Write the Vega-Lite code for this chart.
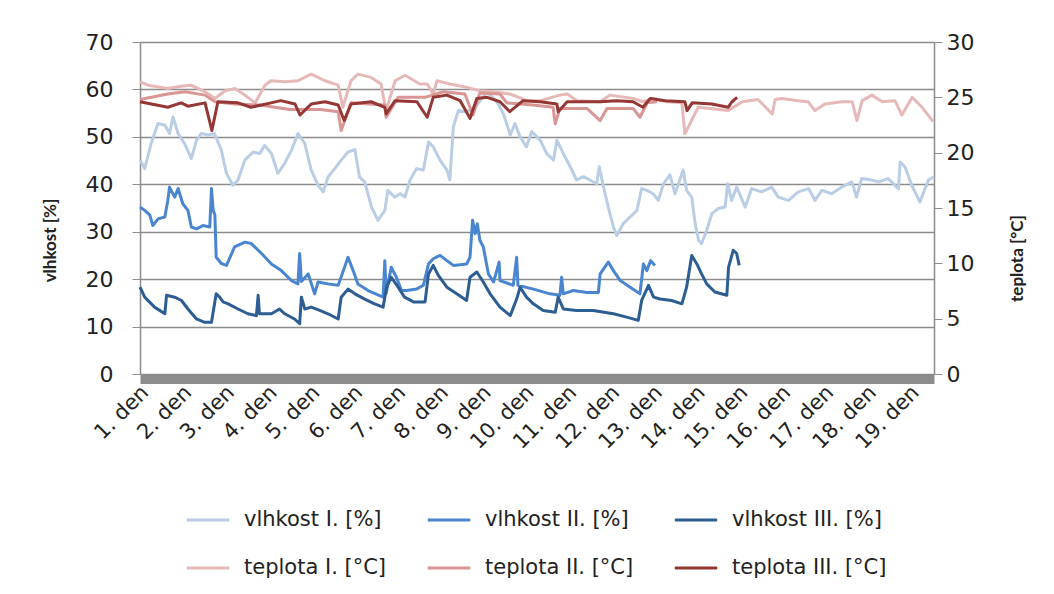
{
  "$schema": "https://vega.github.io/schema/vega-lite/v6.json",
  "width": 794,
  "height": 332,
  "autosize": {"type": "none"},
  "padding": {"left": 140, "top": 42, "right": 120, "bottom": 220},
  "background": "white",
  "config": {
    "font": "DejaVu Sans",
    "view": {"stroke": null},
    "axis": {"labelFont": "DejaVu Sans", "titleFont": "Lato", "labelColor": "#222", "titleColor": "#222"},
    "legend": {"labelFont": "DejaVu Sans", "labelColor": "#222"}
  },
  "datasets": {
    "mereni": [
      {"serie": "vlhkost I. [%]", "den": 0.0, "hodnota": 45.1},
      {"serie": "vlhkost I. [%]", "den": 0.11, "hodnota": 43.3},
      {"serie": "vlhkost I. [%]", "den": 0.26, "hodnota": 48.6},
      {"serie": "vlhkost I. [%]", "den": 0.42, "hodnota": 52.8},
      {"serie": "vlhkost I. [%]", "den": 0.58, "hodnota": 52.5},
      {"serie": "vlhkost I. [%]", "den": 0.69, "hodnota": 50.7},
      {"serie": "vlhkost I. [%]", "den": 0.77, "hodnota": 54.2},
      {"serie": "vlhkost I. [%]", "den": 0.89, "hodnota": 50.7},
      {"serie": "vlhkost I. [%]", "den": 1.04, "hodnota": 48.6},
      {"serie": "vlhkost I. [%]", "den": 1.2, "hodnota": 45.4},
      {"serie": "vlhkost I. [%]", "den": 1.32, "hodnota": 49.3},
      {"serie": "vlhkost I. [%]", "den": 1.43, "hodnota": 50.7},
      {"serie": "vlhkost I. [%]", "den": 1.59, "hodnota": 50.4},
      {"serie": "vlhkost I. [%]", "den": 1.74, "hodnota": 50.7},
      {"serie": "vlhkost I. [%]", "den": 1.9, "hodnota": 47.2},
      {"serie": "vlhkost I. [%]", "den": 2.02, "hodnota": 42.3},
      {"serie": "vlhkost I. [%]", "den": 2.17, "hodnota": 39.8},
      {"serie": "vlhkost I. [%]", "den": 2.29, "hodnota": 40.9},
      {"serie": "vlhkost I. [%]", "den": 2.45, "hodnota": 45.1},
      {"serie": "vlhkost I. [%]", "den": 2.64, "hodnota": 46.8},
      {"serie": "vlhkost I. [%]", "den": 2.8, "hodnota": 46.5},
      {"serie": "vlhkost I. [%]", "den": 2.91, "hodnota": 48.2},
      {"serie": "vlhkost I. [%]", "den": 3.07, "hodnota": 46.5},
      {"serie": "vlhkost I. [%]", "den": 3.22, "hodnota": 42.3},
      {"serie": "vlhkost I. [%]", "den": 3.38, "hodnota": 44.4},
      {"serie": "vlhkost I. [%]", "den": 3.54, "hodnota": 47.2},
      {"serie": "vlhkost I. [%]", "den": 3.69, "hodnota": 50.7},
      {"serie": "vlhkost I. [%]", "den": 3.85, "hodnota": 48.6},
      {"serie": "vlhkost I. [%]", "den": 4.0, "hodnota": 43.0},
      {"serie": "vlhkost I. [%]", "den": 4.16, "hodnota": 39.8},
      {"serie": "vlhkost I. [%]", "den": 4.28, "hodnota": 38.4},
      {"serie": "vlhkost I. [%]", "den": 4.39, "hodnota": 41.5},
      {"serie": "vlhkost I. [%]", "den": 4.55, "hodnota": 43.3},
      {"serie": "vlhkost I. [%]", "den": 4.7, "hodnota": 45.1},
      {"serie": "vlhkost I. [%]", "den": 4.86, "hodnota": 46.8},
      {"serie": "vlhkost I. [%]", "den": 5.02, "hodnota": 47.3},
      {"serie": "vlhkost I. [%]", "den": 5.13, "hodnota": 41.5},
      {"serie": "vlhkost I. [%]", "den": 5.25, "hodnota": 40.5},
      {"serie": "vlhkost I. [%]", "den": 5.41, "hodnota": 35.2},
      {"serie": "vlhkost I. [%]", "den": 5.56, "hodnota": 32.4},
      {"serie": "vlhkost I. [%]", "den": 5.72, "hodnota": 34.5},
      {"serie": "vlhkost I. [%]", "den": 5.79, "hodnota": 38.7},
      {"serie": "vlhkost I. [%]", "den": 5.95, "hodnota": 37.3},
      {"serie": "vlhkost I. [%]", "den": 6.08, "hodnota": 38.0},
      {"serie": "vlhkost I. [%]", "den": 6.19, "hodnota": 37.3},
      {"serie": "vlhkost I. [%]", "den": 6.31, "hodnota": 40.9},
      {"serie": "vlhkost I. [%]", "den": 6.46, "hodnota": 43.3},
      {"serie": "vlhkost I. [%]", "den": 6.62, "hodnota": 43.0},
      {"serie": "vlhkost I. [%]", "den": 6.74, "hodnota": 48.9},
      {"serie": "vlhkost I. [%]", "den": 6.85, "hodnota": 47.9},
      {"serie": "vlhkost I. [%]", "den": 7.01, "hodnota": 45.1},
      {"serie": "vlhkost I. [%]", "den": 7.17, "hodnota": 43.0},
      {"serie": "vlhkost I. [%]", "den": 7.24, "hodnota": 40.9},
      {"serie": "vlhkost I. [%]", "den": 7.32, "hodnota": 52.1},
      {"serie": "vlhkost I. [%]", "den": 7.44, "hodnota": 55.6},
      {"serie": "vlhkost I. [%]", "den": 7.55, "hodnota": 55.3},
      {"serie": "vlhkost I. [%]", "den": 7.71, "hodnota": 55.6},
      {"serie": "vlhkost I. [%]", "den": 7.87, "hodnota": 56.7},
      {"serie": "vlhkost I. [%]", "den": 8.1, "hodnota": 59.5},
      {"serie": "vlhkost I. [%]", "den": 8.33, "hodnota": 57.5},
      {"serie": "vlhkost I. [%]", "den": 8.49, "hodnota": 54.9},
      {"serie": "vlhkost I. [%]", "den": 8.65, "hodnota": 50.4},
      {"serie": "vlhkost I. [%]", "den": 8.76, "hodnota": 52.8},
      {"serie": "vlhkost I. [%]", "den": 8.88, "hodnota": 50.0},
      {"serie": "vlhkost I. [%]", "den": 9.03, "hodnota": 47.9},
      {"serie": "vlhkost I. [%]", "den": 9.15, "hodnota": 51.1},
      {"serie": "vlhkost I. [%]", "den": 9.35, "hodnota": 49.3},
      {"serie": "vlhkost I. [%]", "den": 9.5, "hodnota": 46.5},
      {"serie": "vlhkost I. [%]", "den": 9.66, "hodnota": 45.1},
      {"serie": "vlhkost I. [%]", "den": 9.74, "hodnota": 49.3},
      {"serie": "vlhkost I. [%]", "den": 9.89, "hodnota": 46.5},
      {"serie": "vlhkost I. [%]", "den": 10.05, "hodnota": 43.7},
      {"serie": "vlhkost I. [%]", "den": 10.2, "hodnota": 40.9},
      {"serie": "vlhkost I. [%]", "den": 10.36, "hodnota": 41.6},
      {"serie": "vlhkost I. [%]", "den": 10.51, "hodnota": 40.9},
      {"serie": "vlhkost I. [%]", "den": 10.67, "hodnota": 40.1},
      {"serie": "vlhkost I. [%]", "den": 10.73, "hodnota": 43.7},
      {"serie": "vlhkost I. [%]", "den": 10.83, "hodnota": 39.4},
      {"serie": "vlhkost I. [%]", "den": 10.94, "hodnota": 35.2},
      {"serie": "vlhkost I. [%]", "den": 11.06, "hodnota": 31.0},
      {"serie": "vlhkost I. [%]", "den": 11.14, "hodnota": 29.2},
      {"serie": "vlhkost I. [%]", "den": 11.29, "hodnota": 31.7},
      {"serie": "vlhkost I. [%]", "den": 11.45, "hodnota": 33.1},
      {"serie": "vlhkost I. [%]", "den": 11.61, "hodnota": 34.5},
      {"serie": "vlhkost I. [%]", "den": 11.72, "hodnota": 39.1},
      {"serie": "vlhkost I. [%]", "den": 11.84, "hodnota": 38.7},
      {"serie": "vlhkost I. [%]", "den": 11.99, "hodnota": 38.0},
      {"serie": "vlhkost I. [%]", "den": 12.11, "hodnota": 36.6},
      {"serie": "vlhkost I. [%]", "den": 12.23, "hodnota": 40.1},
      {"serie": "vlhkost I. [%]", "den": 12.38, "hodnota": 42.0},
      {"serie": "vlhkost I. [%]", "den": 12.5, "hodnota": 38.0},
      {"serie": "vlhkost I. [%]", "den": 12.69, "hodnota": 43.0},
      {"serie": "vlhkost I. [%]", "den": 12.77, "hodnota": 38.7},
      {"serie": "vlhkost I. [%]", "den": 12.89, "hodnota": 37.3},
      {"serie": "vlhkost I. [%]", "den": 12.97, "hodnota": 31.7},
      {"serie": "vlhkost I. [%]", "den": 13.05, "hodnota": 28.2},
      {"serie": "vlhkost I. [%]", "den": 13.12, "hodnota": 27.5},
      {"serie": "vlhkost I. [%]", "den": 13.24, "hodnota": 30.3},
      {"serie": "vlhkost I. [%]", "den": 13.36, "hodnota": 33.8},
      {"serie": "vlhkost I. [%]", "den": 13.51, "hodnota": 34.9},
      {"serie": "vlhkost I. [%]", "den": 13.67, "hodnota": 35.2},
      {"serie": "vlhkost I. [%]", "den": 13.73, "hodnota": 40.1},
      {"serie": "vlhkost I. [%]", "den": 13.82, "hodnota": 36.6},
      {"serie": "vlhkost I. [%]", "den": 13.94, "hodnota": 39.4},
      {"serie": "vlhkost I. [%]", "den": 14.14, "hodnota": 35.2},
      {"serie": "vlhkost I. [%]", "den": 14.29, "hodnota": 39.1},
      {"serie": "vlhkost I. [%]", "den": 14.52, "hodnota": 38.4},
      {"serie": "vlhkost I. [%]", "den": 14.76, "hodnota": 39.4},
      {"serie": "vlhkost I. [%]", "den": 14.91, "hodnota": 37.3},
      {"serie": "vlhkost I. [%]", "den": 15.15, "hodnota": 36.6},
      {"serie": "vlhkost I. [%]", "den": 15.38, "hodnota": 38.4},
      {"serie": "vlhkost I. [%]", "den": 15.62, "hodnota": 39.1},
      {"serie": "vlhkost I. [%]", "den": 15.77, "hodnota": 36.6},
      {"serie": "vlhkost I. [%]", "den": 15.93, "hodnota": 38.7},
      {"serie": "vlhkost I. [%]", "den": 16.16, "hodnota": 38.0},
      {"serie": "vlhkost I. [%]", "den": 16.39, "hodnota": 39.4},
      {"serie": "vlhkost I. [%]", "den": 16.63, "hodnota": 40.5},
      {"serie": "vlhkost I. [%]", "den": 16.74, "hodnota": 37.3},
      {"serie": "vlhkost I. [%]", "den": 16.86, "hodnota": 41.2},
      {"serie": "vlhkost I. [%]", "den": 17.09, "hodnota": 40.9},
      {"serie": "vlhkost I. [%]", "den": 17.25, "hodnota": 40.5},
      {"serie": "vlhkost I. [%]", "den": 17.48, "hodnota": 41.2},
      {"serie": "vlhkost I. [%]", "den": 17.72, "hodnota": 39.1},
      {"serie": "vlhkost I. [%]", "den": 17.76, "hodnota": 44.7},
      {"serie": "vlhkost I. [%]", "den": 17.87, "hodnota": 43.7},
      {"serie": "vlhkost I. [%]", "den": 18.03, "hodnota": 39.8},
      {"serie": "vlhkost I. [%]", "den": 18.22, "hodnota": 36.3},
      {"serie": "vlhkost I. [%]", "den": 18.42, "hodnota": 40.9},
      {"serie": "vlhkost I. [%]", "den": 18.55, "hodnota": 41.6},

      {"serie": "vlhkost II. [%]", "den": 0.0, "hodnota": 35.2},
      {"serie": "vlhkost II. [%]", "den": 0.11, "hodnota": 34.5},
      {"serie": "vlhkost II. [%]", "den": 0.23, "hodnota": 33.5},
      {"serie": "vlhkost II. [%]", "den": 0.3, "hodnota": 31.3},
      {"serie": "vlhkost II. [%]", "den": 0.42, "hodnota": 32.7},
      {"serie": "vlhkost II. [%]", "den": 0.58, "hodnota": 33.1},
      {"serie": "vlhkost II. [%]", "den": 0.65, "hodnota": 36.6},
      {"serie": "vlhkost II. [%]", "den": 0.69, "hodnota": 39.4},
      {"serie": "vlhkost II. [%]", "den": 0.81, "hodnota": 37.3},
      {"serie": "vlhkost II. [%]", "den": 0.89, "hodnota": 39.1},
      {"serie": "vlhkost II. [%]", "den": 1.0, "hodnota": 35.9},
      {"serie": "vlhkost II. [%]", "den": 1.12, "hodnota": 34.5},
      {"serie": "vlhkost II. [%]", "den": 1.2, "hodnota": 31.0},
      {"serie": "vlhkost II. [%]", "den": 1.32, "hodnota": 30.6},
      {"serie": "vlhkost II. [%]", "den": 1.47, "hodnota": 31.3},
      {"serie": "vlhkost II. [%]", "den": 1.63, "hodnota": 31.0},
      {"serie": "vlhkost II. [%]", "den": 1.67, "hodnota": 39.1},
      {"serie": "vlhkost II. [%]", "den": 1.71, "hodnota": 34.5},
      {"serie": "vlhkost II. [%]", "den": 1.75, "hodnota": 33.5},
      {"serie": "vlhkost II. [%]", "den": 1.78, "hodnota": 24.6},
      {"serie": "vlhkost II. [%]", "den": 1.9, "hodnota": 23.3},
      {"serie": "vlhkost II. [%]", "den": 2.02, "hodnota": 22.9},
      {"serie": "vlhkost II. [%]", "den": 2.21, "hodnota": 26.8},
      {"serie": "vlhkost II. [%]", "den": 2.45, "hodnota": 27.8},
      {"serie": "vlhkost II. [%]", "den": 2.6, "hodnota": 27.5},
      {"serie": "vlhkost II. [%]", "den": 2.84, "hodnota": 25.4},
      {"serie": "vlhkost II. [%]", "den": 3.07, "hodnota": 23.2},
      {"serie": "vlhkost II. [%]", "den": 3.3, "hodnota": 21.8},
      {"serie": "vlhkost II. [%]", "den": 3.54, "hodnota": 19.7},
      {"serie": "vlhkost II. [%]", "den": 3.69, "hodnota": 19.0},
      {"serie": "vlhkost II. [%]", "den": 3.73, "hodnota": 25.4},
      {"serie": "vlhkost II. [%]", "den": 3.77, "hodnota": 19.5},
      {"serie": "vlhkost II. [%]", "den": 3.93, "hodnota": 21.1},
      {"serie": "vlhkost II. [%]", "den": 4.08, "hodnota": 16.9},
      {"serie": "vlhkost II. [%]", "den": 4.16, "hodnota": 19.4},
      {"serie": "vlhkost II. [%]", "den": 4.39, "hodnota": 19.0},
      {"serie": "vlhkost II. [%]", "den": 4.63, "hodnota": 18.7},
      {"serie": "vlhkost II. [%]", "den": 4.74, "hodnota": 21.5},
      {"serie": "vlhkost II. [%]", "den": 4.86, "hodnota": 24.6},
      {"serie": "vlhkost II. [%]", "den": 4.98, "hodnota": 21.8},
      {"serie": "vlhkost II. [%]", "den": 5.09, "hodnota": 19.0},
      {"serie": "vlhkost II. [%]", "den": 5.33, "hodnota": 17.6},
      {"serie": "vlhkost II. [%]", "den": 5.68, "hodnota": 16.2},
      {"serie": "vlhkost II. [%]", "den": 5.72, "hodnota": 23.9},
      {"serie": "vlhkost II. [%]", "den": 5.75, "hodnota": 17.0},
      {"serie": "vlhkost II. [%]", "den": 5.87, "hodnota": 22.5},
      {"serie": "vlhkost II. [%]", "den": 5.99, "hodnota": 20.4},
      {"serie": "vlhkost II. [%]", "den": 6.11, "hodnota": 17.6},
      {"serie": "vlhkost II. [%]", "den": 6.23, "hodnota": 17.6},
      {"serie": "vlhkost II. [%]", "den": 6.46, "hodnota": 17.9},
      {"serie": "vlhkost II. [%]", "den": 6.62, "hodnota": 18.7},
      {"serie": "vlhkost II. [%]", "den": 6.74, "hodnota": 23.2},
      {"serie": "vlhkost II. [%]", "den": 6.85, "hodnota": 24.3},
      {"serie": "vlhkost II. [%]", "den": 7.01, "hodnota": 25.0},
      {"serie": "vlhkost II. [%]", "den": 7.17, "hodnota": 23.9},
      {"serie": "vlhkost II. [%]", "den": 7.32, "hodnota": 22.9},
      {"serie": "vlhkost II. [%]", "den": 7.63, "hodnota": 23.2},
      {"serie": "vlhkost II. [%]", "den": 7.71, "hodnota": 24.6},
      {"serie": "vlhkost II. [%]", "den": 7.77, "hodnota": 32.4},
      {"serie": "vlhkost II. [%]", "den": 7.83, "hodnota": 29.6},
      {"serie": "vlhkost II. [%]", "den": 7.88, "hodnota": 31.7},
      {"serie": "vlhkost II. [%]", "den": 7.94, "hodnota": 28.2},
      {"serie": "vlhkost II. [%]", "den": 8.02, "hodnota": 26.8},
      {"serie": "vlhkost II. [%]", "den": 8.14, "hodnota": 21.1},
      {"serie": "vlhkost II. [%]", "den": 8.26, "hodnota": 19.4},
      {"serie": "vlhkost II. [%]", "den": 8.39, "hodnota": 23.6},
      {"serie": "vlhkost II. [%]", "den": 8.41, "hodnota": 19.7},
      {"serie": "vlhkost II. [%]", "den": 8.72, "hodnota": 18.7},
      {"serie": "vlhkost II. [%]", "den": 8.8, "hodnota": 24.6},
      {"serie": "vlhkost II. [%]", "den": 8.83, "hodnota": 18.7},
      {"serie": "vlhkost II. [%]", "den": 9.19, "hodnota": 17.9},
      {"serie": "vlhkost II. [%]", "den": 9.58, "hodnota": 16.9},
      {"serie": "vlhkost II. [%]", "den": 9.81, "hodnota": 16.6},
      {"serie": "vlhkost II. [%]", "den": 9.85, "hodnota": 20.4},
      {"serie": "vlhkost II. [%]", "den": 9.89, "hodnota": 16.9},
      {"serie": "vlhkost II. [%]", "den": 10.12, "hodnota": 17.6},
      {"serie": "vlhkost II. [%]", "den": 10.44, "hodnota": 17.2},
      {"serie": "vlhkost II. [%]", "den": 10.71, "hodnota": 17.2},
      {"serie": "vlhkost II. [%]", "den": 10.75, "hodnota": 21.1},
      {"serie": "vlhkost II. [%]", "den": 10.94, "hodnota": 23.6},
      {"serie": "vlhkost II. [%]", "den": 11.06, "hodnota": 21.8},
      {"serie": "vlhkost II. [%]", "den": 11.22, "hodnota": 19.7},
      {"serie": "vlhkost II. [%]", "den": 11.45, "hodnota": 18.3},
      {"serie": "vlhkost II. [%]", "den": 11.68, "hodnota": 16.9},
      {"serie": "vlhkost II. [%]", "den": 11.76, "hodnota": 23.2},
      {"serie": "vlhkost II. [%]", "den": 11.84, "hodnota": 21.8},
      {"serie": "vlhkost II. [%]", "den": 11.93, "hodnota": 23.9},
      {"serie": "vlhkost II. [%]", "den": 12.03, "hodnota": 22.9},

      {"serie": "vlhkost III. [%]", "den": 0.0, "hodnota": 18.3},
      {"serie": "vlhkost III. [%]", "den": 0.11, "hodnota": 16.2},
      {"serie": "vlhkost III. [%]", "den": 0.34, "hodnota": 14.1},
      {"serie": "vlhkost III. [%]", "den": 0.58, "hodnota": 12.7},
      {"serie": "vlhkost III. [%]", "den": 0.62, "hodnota": 16.6},
      {"serie": "vlhkost III. [%]", "den": 0.81, "hodnota": 16.2},
      {"serie": "vlhkost III. [%]", "den": 0.97, "hodnota": 15.5},
      {"serie": "vlhkost III. [%]", "den": 1.12, "hodnota": 13.7},
      {"serie": "vlhkost III. [%]", "den": 1.32, "hodnota": 11.6},
      {"serie": "vlhkost III. [%]", "den": 1.51, "hodnota": 10.9},
      {"serie": "vlhkost III. [%]", "den": 1.67, "hodnota": 10.9},
      {"serie": "vlhkost III. [%]", "den": 1.78, "hodnota": 16.9},
      {"serie": "vlhkost III. [%]", "den": 1.86, "hodnota": 16.2},
      {"serie": "vlhkost III. [%]", "den": 1.94, "hodnota": 15.2},
      {"serie": "vlhkost III. [%]", "den": 2.06, "hodnota": 14.8},
      {"serie": "vlhkost III. [%]", "den": 2.29, "hodnota": 13.7},
      {"serie": "vlhkost III. [%]", "den": 2.52, "hodnota": 12.7},
      {"serie": "vlhkost III. [%]", "den": 2.72, "hodnota": 12.3},
      {"serie": "vlhkost III. [%]", "den": 2.76, "hodnota": 16.6},
      {"serie": "vlhkost III. [%]", "den": 2.79, "hodnota": 12.7},
      {"serie": "vlhkost III. [%]", "den": 3.07, "hodnota": 12.7},
      {"serie": "vlhkost III. [%]", "den": 3.26, "hodnota": 13.7},
      {"serie": "vlhkost III. [%]", "den": 3.38, "hodnota": 12.7},
      {"serie": "vlhkost III. [%]", "den": 3.61, "hodnota": 11.6},
      {"serie": "vlhkost III. [%]", "den": 3.73, "hodnota": 10.6},
      {"serie": "vlhkost III. [%]", "den": 3.77, "hodnota": 16.2},
      {"serie": "vlhkost III. [%]", "den": 3.85, "hodnota": 13.7},
      {"serie": "vlhkost III. [%]", "den": 4.0, "hodnota": 14.1},
      {"serie": "vlhkost III. [%]", "den": 4.2, "hodnota": 13.4},
      {"serie": "vlhkost III. [%]", "den": 4.39, "hodnota": 12.7},
      {"serie": "vlhkost III. [%]", "den": 4.63, "hodnota": 11.6},
      {"serie": "vlhkost III. [%]", "den": 4.7, "hodnota": 16.2},
      {"serie": "vlhkost III. [%]", "den": 4.86, "hodnota": 17.9},
      {"serie": "vlhkost III. [%]", "den": 5.02, "hodnota": 16.9},
      {"serie": "vlhkost III. [%]", "den": 5.25, "hodnota": 15.8},
      {"serie": "vlhkost III. [%]", "den": 5.48, "hodnota": 14.8},
      {"serie": "vlhkost III. [%]", "den": 5.68, "hodnota": 14.1},
      {"serie": "vlhkost III. [%]", "den": 5.76, "hodnota": 18.3},
      {"serie": "vlhkost III. [%]", "den": 5.87, "hodnota": 20.4},
      {"serie": "vlhkost III. [%]", "den": 6.03, "hodnota": 18.3},
      {"serie": "vlhkost III. [%]", "den": 6.18, "hodnota": 16.2},
      {"serie": "vlhkost III. [%]", "den": 6.39, "hodnota": 15.2},
      {"serie": "vlhkost III. [%]", "den": 6.66, "hodnota": 15.2},
      {"serie": "vlhkost III. [%]", "den": 6.74, "hodnota": 21.1},
      {"serie": "vlhkost III. [%]", "den": 6.85, "hodnota": 22.9},
      {"serie": "vlhkost III. [%]", "den": 6.97, "hodnota": 20.8},
      {"serie": "vlhkost III. [%]", "den": 7.17, "hodnota": 18.3},
      {"serie": "vlhkost III. [%]", "den": 7.4, "hodnota": 16.9},
      {"serie": "vlhkost III. [%]", "den": 7.63, "hodnota": 15.5},
      {"serie": "vlhkost III. [%]", "den": 7.71, "hodnota": 20.4},
      {"serie": "vlhkost III. [%]", "den": 7.87, "hodnota": 21.5},
      {"serie": "vlhkost III. [%]", "den": 8.02, "hodnota": 19.4},
      {"serie": "vlhkost III. [%]", "den": 8.18, "hodnota": 16.9},
      {"serie": "vlhkost III. [%]", "den": 8.41, "hodnota": 14.1},
      {"serie": "vlhkost III. [%]", "den": 8.65, "hodnota": 12.3},
      {"serie": "vlhkost III. [%]", "den": 8.8, "hodnota": 15.8},
      {"serie": "vlhkost III. [%]", "den": 8.88, "hodnota": 18.3},
      {"serie": "vlhkost III. [%]", "den": 9.03, "hodnota": 16.2},
      {"serie": "vlhkost III. [%]", "den": 9.19, "hodnota": 14.8},
      {"serie": "vlhkost III. [%]", "den": 9.42, "hodnota": 13.4},
      {"serie": "vlhkost III. [%]", "den": 9.7, "hodnota": 13.0},
      {"serie": "vlhkost III. [%]", "den": 9.77, "hodnota": 16.2},
      {"serie": "vlhkost III. [%]", "den": 9.89, "hodnota": 13.7},
      {"serie": "vlhkost III. [%]", "den": 10.2, "hodnota": 13.4},
      {"serie": "vlhkost III. [%]", "den": 10.59, "hodnota": 13.4},
      {"serie": "vlhkost III. [%]", "den": 11.06, "hodnota": 12.7},
      {"serie": "vlhkost III. [%]", "den": 11.37, "hodnota": 12.0},
      {"serie": "vlhkost III. [%]", "den": 11.64, "hodnota": 11.3},
      {"serie": "vlhkost III. [%]", "den": 11.72, "hodnota": 15.5},
      {"serie": "vlhkost III. [%]", "den": 11.88, "hodnota": 18.7},
      {"serie": "vlhkost III. [%]", "den": 12.0, "hodnota": 16.2},
      {"serie": "vlhkost III. [%]", "den": 12.15, "hodnota": 15.8},
      {"serie": "vlhkost III. [%]", "den": 12.42, "hodnota": 15.5},
      {"serie": "vlhkost III. [%]", "den": 12.66, "hodnota": 14.8},
      {"serie": "vlhkost III. [%]", "den": 12.77, "hodnota": 18.3},
      {"serie": "vlhkost III. [%]", "den": 12.89, "hodnota": 25.0},
      {"serie": "vlhkost III. [%]", "den": 13.01, "hodnota": 23.2},
      {"serie": "vlhkost III. [%]", "den": 13.12, "hodnota": 21.1},
      {"serie": "vlhkost III. [%]", "den": 13.24, "hodnota": 19.0},
      {"serie": "vlhkost III. [%]", "den": 13.43, "hodnota": 17.3},
      {"serie": "vlhkost III. [%]", "den": 13.71, "hodnota": 16.6},
      {"serie": "vlhkost III. [%]", "den": 13.75, "hodnota": 22.5},
      {"serie": "vlhkost III. [%]", "den": 13.86, "hodnota": 26.1},
      {"serie": "vlhkost III. [%]", "den": 13.94, "hodnota": 25.4},
      {"serie": "vlhkost III. [%]", "den": 14.0, "hodnota": 22.9},

      {"serie": "teplota I. [°C]", "den": 0.0, "hodnota": 26.4},
      {"serie": "teplota I. [°C]", "den": 0.19, "hodnota": 26.1},
      {"serie": "teplota I. [°C]", "den": 0.65, "hodnota": 25.8},
      {"serie": "teplota I. [°C]", "den": 0.96, "hodnota": 26.0},
      {"serie": "teplota I. [°C]", "den": 1.19, "hodnota": 26.1},
      {"serie": "teplota I. [°C]", "den": 1.52, "hodnota": 25.5},
      {"serie": "teplota I. [°C]", "den": 1.75, "hodnota": 24.9},
      {"serie": "teplota I. [°C]", "den": 1.99, "hodnota": 25.6},
      {"serie": "teplota I. [°C]", "den": 2.22, "hodnota": 25.8},
      {"serie": "teplota I. [°C]", "den": 2.45, "hodnota": 25.2},
      {"serie": "teplota I. [°C]", "den": 2.69, "hodnota": 24.5},
      {"serie": "teplota I. [°C]", "den": 2.92, "hodnota": 26.1},
      {"serie": "teplota I. [°C]", "den": 3.06, "hodnota": 26.5},
      {"serie": "teplota I. [°C]", "den": 3.39, "hodnota": 26.4},
      {"serie": "teplota I. [°C]", "den": 3.69, "hodnota": 26.5},
      {"serie": "teplota I. [°C]", "den": 4.0, "hodnota": 27.1},
      {"serie": "teplota I. [°C]", "den": 4.32, "hodnota": 26.5},
      {"serie": "teplota I. [°C]", "den": 4.63, "hodnota": 26.1},
      {"serie": "teplota I. [°C]", "den": 4.74, "hodnota": 24.1},
      {"serie": "teplota I. [°C]", "den": 4.93, "hodnota": 26.5},
      {"serie": "teplota I. [°C]", "den": 5.09, "hodnota": 27.1},
      {"serie": "teplota I. [°C]", "den": 5.4, "hodnota": 26.8},
      {"serie": "teplota I. [°C]", "den": 5.63, "hodnota": 26.2},
      {"serie": "teplota I. [°C]", "den": 5.75, "hodnota": 23.8},
      {"serie": "teplota I. [°C]", "den": 5.96, "hodnota": 26.5},
      {"serie": "teplota I. [°C]", "den": 6.19, "hodnota": 27.0},
      {"serie": "teplota I. [°C]", "den": 6.54, "hodnota": 26.2},
      {"serie": "teplota I. [°C]", "den": 6.71, "hodnota": 26.2},
      {"serie": "teplota I. [°C]", "den": 6.85, "hodnota": 25.3},
      {"serie": "teplota I. [°C]", "den": 6.94, "hodnota": 26.5},
      {"serie": "teplota I. [°C]", "den": 7.24, "hodnota": 26.2},
      {"serie": "teplota I. [°C]", "den": 7.64, "hodnota": 25.9},
      {"serie": "teplota I. [°C]", "den": 7.94, "hodnota": 25.6},
      {"serie": "teplota I. [°C]", "den": 8.25, "hodnota": 25.5},
      {"serie": "teplota I. [°C]", "den": 8.64, "hodnota": 25.3},
      {"serie": "teplota I. [°C]", "den": 9.04, "hodnota": 24.7},
      {"serie": "teplota I. [°C]", "den": 9.35, "hodnota": 24.7},
      {"serie": "teplota I. [°C]", "den": 9.81, "hodnota": 25.2},
      {"serie": "teplota I. [°C]", "den": 9.98, "hodnota": 25.3},
      {"serie": "teplota I. [°C]", "den": 10.21, "hodnota": 24.7},
      {"serie": "teplota I. [°C]", "den": 10.75, "hodnota": 24.6},
      {"serie": "teplota I. [°C]", "den": 10.98, "hodnota": 25.2},
      {"serie": "teplota I. [°C]", "den": 11.52, "hodnota": 24.9},
      {"serie": "teplota I. [°C]", "den": 11.75, "hodnota": 24.6},
      {"serie": "teplota I. [°C]", "den": 11.99, "hodnota": 24.9},
      {"serie": "teplota I. [°C]", "den": 12.31, "hodnota": 24.6},
      {"serie": "teplota I. [°C]", "den": 12.66, "hodnota": 24.5},
      {"serie": "teplota I. [°C]", "den": 12.73, "hodnota": 21.7},
      {"serie": "teplota I. [°C]", "den": 13.04, "hodnota": 24.1},
      {"serie": "teplota I. [°C]", "den": 13.74, "hodnota": 23.8},
      {"serie": "teplota I. [°C]", "den": 14.07, "hodnota": 24.6},
      {"serie": "teplota I. [°C]", "den": 14.44, "hodnota": 24.8},
      {"serie": "teplota I. [°C]", "den": 14.77, "hodnota": 23.5},
      {"serie": "teplota I. [°C]", "den": 14.84, "hodnota": 24.8},
      {"serie": "teplota I. [°C]", "den": 15.0, "hodnota": 24.9},
      {"serie": "teplota I. [°C]", "den": 15.37, "hodnota": 24.7},
      {"serie": "teplota I. [°C]", "den": 15.61, "hodnota": 24.6},
      {"serie": "teplota I. [°C]", "den": 15.77, "hodnota": 23.8},
      {"serie": "teplota I. [°C]", "den": 16.0, "hodnota": 24.4},
      {"serie": "teplota I. [°C]", "den": 16.4, "hodnota": 24.6},
      {"serie": "teplota I. [°C]", "den": 16.64, "hodnota": 24.6},
      {"serie": "teplota I. [°C]", "den": 16.75, "hodnota": 22.9},
      {"serie": "teplota I. [°C]", "den": 16.87, "hodnota": 24.7},
      {"serie": "teplota I. [°C]", "den": 17.1, "hodnota": 25.2},
      {"serie": "teplota I. [°C]", "den": 17.34, "hodnota": 24.6},
      {"serie": "teplota I. [°C]", "den": 17.64, "hodnota": 24.7},
      {"serie": "teplota I. [°C]", "den": 17.8, "hodnota": 23.4},
      {"serie": "teplota I. [°C]", "den": 18.04, "hodnota": 25.0},
      {"serie": "teplota I. [°C]", "den": 18.27, "hodnota": 24.1},
      {"serie": "teplota I. [°C]", "den": 18.53, "hodnota": 22.8},

      {"serie": "teplota II. [°C]", "den": 0.0, "hodnota": 24.8},
      {"serie": "teplota II. [°C]", "den": 0.65, "hodnota": 25.3},
      {"serie": "teplota II. [°C]", "den": 1.05, "hodnota": 25.5},
      {"serie": "teplota II. [°C]", "den": 1.52, "hodnota": 25.2},
      {"serie": "teplota II. [°C]", "den": 1.75, "hodnota": 24.6},
      {"serie": "teplota II. [°C]", "den": 2.22, "hodnota": 24.4},
      {"serie": "teplota II. [°C]", "den": 2.8, "hodnota": 24.3},
      {"serie": "teplota II. [°C]", "den": 3.5, "hodnota": 23.9},
      {"serie": "teplota II. [°C]", "den": 4.21, "hodnota": 23.9},
      {"serie": "teplota II. [°C]", "den": 4.63, "hodnota": 23.7},
      {"serie": "teplota II. [°C]", "den": 4.7, "hodnota": 22.0},
      {"serie": "teplota II. [°C]", "den": 4.93, "hodnota": 24.5},
      {"serie": "teplota II. [°C]", "den": 5.37, "hodnota": 24.4},
      {"serie": "teplota II. [°C]", "den": 5.72, "hodnota": 24.3},
      {"serie": "teplota II. [°C]", "den": 5.75, "hodnota": 23.2},
      {"serie": "teplota II. [°C]", "den": 6.03, "hodnota": 25.0},
      {"serie": "teplota II. [°C]", "den": 6.66, "hodnota": 25.0},
      {"serie": "teplota II. [°C]", "den": 7.08, "hodnota": 25.5},
      {"serie": "teplota II. [°C]", "den": 7.59, "hodnota": 25.3},
      {"serie": "teplota II. [°C]", "den": 7.78, "hodnota": 23.4},
      {"serie": "teplota II. [°C]", "den": 7.94, "hodnota": 25.4},
      {"serie": "teplota II. [°C]", "den": 8.41, "hodnota": 25.3},
      {"serie": "teplota II. [°C]", "den": 8.57, "hodnota": 24.5},
      {"serie": "teplota II. [°C]", "den": 9.18, "hodnota": 24.3},
      {"serie": "teplota II. [°C]", "den": 9.65, "hodnota": 24.1},
      {"serie": "teplota II. [°C]", "den": 9.7, "hodnota": 22.6},
      {"serie": "teplota II. [°C]", "den": 9.81, "hodnota": 24.0},
      {"serie": "teplota II. [°C]", "den": 10.44, "hodnota": 24.0},
      {"serie": "teplota II. [°C]", "den": 10.75, "hodnota": 22.9},
      {"serie": "teplota II. [°C]", "den": 10.91, "hodnota": 24.0},
      {"serie": "teplota II. [°C]", "den": 11.52, "hodnota": 24.0},
      {"serie": "teplota II. [°C]", "den": 11.68, "hodnota": 23.2},
      {"serie": "teplota II. [°C]", "den": 11.85, "hodnota": 24.5},
      {"serie": "teplota II. [°C]", "den": 12.08, "hodnota": 24.6},

      {"serie": "teplota III. [°C]", "den": 0.0, "hodnota": 24.6},
      {"serie": "teplota III. [°C]", "den": 0.65, "hodnota": 24.1},
      {"serie": "teplota III. [°C]", "den": 0.96, "hodnota": 24.5},
      {"serie": "teplota III. [°C]", "den": 1.12, "hodnota": 24.2},
      {"serie": "teplota III. [°C]", "den": 1.52, "hodnota": 24.5},
      {"serie": "teplota III. [°C]", "den": 1.68, "hodnota": 22.0},
      {"serie": "teplota III. [°C]", "den": 1.82, "hodnota": 24.6},
      {"serie": "teplota III. [°C]", "den": 2.29, "hodnota": 24.5},
      {"serie": "teplota III. [°C]", "den": 2.59, "hodnota": 24.1},
      {"serie": "teplota III. [°C]", "den": 3.06, "hodnota": 24.5},
      {"serie": "teplota III. [°C]", "den": 3.29, "hodnota": 24.7},
      {"serie": "teplota III. [°C]", "den": 3.62, "hodnota": 24.4},
      {"serie": "teplota III. [°C]", "den": 3.74, "hodnota": 23.4},
      {"serie": "teplota III. [°C]", "den": 4.0, "hodnota": 24.4},
      {"serie": "teplota III. [°C]", "den": 4.32, "hodnota": 24.6},
      {"serie": "teplota III. [°C]", "den": 4.63, "hodnota": 24.3},
      {"serie": "teplota III. [°C]", "den": 4.77, "hodnota": 22.9},
      {"serie": "teplota III. [°C]", "den": 4.93, "hodnota": 24.4},
      {"serie": "teplota III. [°C]", "den": 5.4, "hodnota": 24.6},
      {"serie": "teplota III. [°C]", "den": 5.72, "hodnota": 24.1},
      {"serie": "teplota III. [°C]", "den": 5.75, "hodnota": 23.5},
      {"serie": "teplota III. [°C]", "den": 5.96, "hodnota": 24.7},
      {"serie": "teplota III. [°C]", "den": 6.47, "hodnota": 24.6},
      {"serie": "teplota III. [°C]", "den": 6.71, "hodnota": 23.2},
      {"serie": "teplota III. [°C]", "den": 6.85, "hodnota": 25.0},
      {"serie": "teplota III. [°C]", "den": 7.17, "hodnota": 25.2},
      {"serie": "teplota III. [°C]", "den": 7.48, "hodnota": 24.7},
      {"serie": "teplota III. [°C]", "den": 7.71, "hodnota": 23.1},
      {"serie": "teplota III. [°C]", "den": 7.87, "hodnota": 24.9},
      {"serie": "teplota III. [°C]", "den": 8.11, "hodnota": 25.0},
      {"serie": "teplota III. [°C]", "den": 8.41, "hodnota": 24.6},
      {"serie": "teplota III. [°C]", "den": 8.64, "hodnota": 23.7},
      {"serie": "teplota III. [°C]", "den": 8.95, "hodnota": 24.7},
      {"serie": "teplota III. [°C]", "den": 9.35, "hodnota": 24.6},
      {"serie": "teplota III. [°C]", "den": 9.74, "hodnota": 24.4},
      {"serie": "teplota III. [°C]", "den": 9.77, "hodnota": 23.7},
      {"serie": "teplota III. [°C]", "den": 9.98, "hodnota": 24.6},
      {"serie": "teplota III. [°C]", "den": 10.75, "hodnota": 24.6},
      {"serie": "teplota III. [°C]", "den": 11.14, "hodnota": 24.7},
      {"serie": "teplota III. [°C]", "den": 11.52, "hodnota": 24.6},
      {"serie": "teplota III. [°C]", "den": 11.75, "hodnota": 24.1},
      {"serie": "teplota III. [°C]", "den": 11.92, "hodnota": 24.9},
      {"serie": "teplota III. [°C]", "den": 12.27, "hodnota": 24.7},
      {"serie": "teplota III. [°C]", "den": 12.73, "hodnota": 24.6},
      {"serie": "teplota III. [°C]", "den": 12.78, "hodnota": 23.8},
      {"serie": "teplota III. [°C]", "den": 12.9, "hodnota": 24.5},
      {"serie": "teplota III. [°C]", "den": 13.36, "hodnota": 24.4},
      {"serie": "teplota III. [°C]", "den": 13.74, "hodnota": 24.1},
      {"serie": "teplota III. [°C]", "den": 13.83, "hodnota": 24.6},
      {"serie": "teplota III. [°C]", "den": 13.95, "hodnota": 25.0}
    ]
  },
  "data": {"name": "mereni"},
  "encoding": {
    "x": {
      "field": "den",
      "type": "quantitative",
      "scale": {"domain": [0, 18.55], "nice": false, "zero": false},
      "axis": {
        "title": null,
        "values": [0, 1, 2, 3, 4, 5, 6, 7, 8, 9, 10, 11, 12, 13, 14, 15, 16, 17, 18],
        "labelExpr": "(datum.value + 1) + '. den'",
        "labelAngle": -45,
        "labelAlign": "right",
        "labelBaseline": "middle",
        "labelFontSize": 21,
        "labelPadding": 10,
        "labelOffset": 5,
        "labelOverlap": false,
        "labelFlush": false,
        "labelBound": false,
        "ticks": false,
        "grid": false,
        "domainColor": "#8c8c8c",
        "domainWidth": 9,
        "offset": 5
      }
    },
    "color": {
      "field": "serie",
      "type": "nominal",
      "scale": {
        "domain": ["vlhkost I. [%]", "vlhkost II. [%]", "vlhkost III. [%]", "teplota I. [°C]", "teplota II. [°C]", "teplota III. [°C]"],
        "range": ["#b9cde5", "#4a86d0", "#2c5d93", "#e6b9b8", "#d99694", "#953735"]
      },
      "legend": {
        "title": null,
        "orient": "none",
        "legendX": 45,
        "legendY": 455,
        "direction": "horizontal",
        "columns": 3,
        "padding": 0,
        "symbolType": "stroke",
        "symbolSize": 1800,
        "symbolStrokeWidth": 3,
        "labelFontSize": 21,
        "labelOffset": 13,
        "columnPadding": 34,
        "rowPadding": 15
      }
    }
  },
  "layer": [
    {
      "transform": [{"filter": {"field": "serie", "oneOf": ["vlhkost I. [%]", "vlhkost II. [%]", "vlhkost III. [%]"]}}],
      "mark": {"type": "line", "strokeWidth": 3, "strokeJoin": "round"},
      "encoding": {
        "y": {
          "field": "hodnota",
          "type": "quantitative",
          "scale": {"domain": [0, 70], "nice": false},
          "axis": {
            "title": "vlhkost [%]",
            "values": [0, 10, 20, 30, 40, 50, 60, 70],
            "labelFontSize": 22,
            "labelPadding": 19,
            "tickSize": 8,
            "tickColor": "#8c8c8c",
            "domainColor": "#8c8c8c",
            "domainWidth": 1.5,
            "gridColor": "#8c8c8c",
            "gridWidth": 1.3,
            "titleFontSize": 17,
            "titleFontWeight": "bold",
            "titleAngle": 270,
            "titleAlign": "center",
            "titleBaseline": "middle",
            "titleX": -90,
            "titleY": 198
          }
        }
      }
    },
    {
      "transform": [{"filter": {"field": "serie", "oneOf": ["teplota I. [°C]", "teplota II. [°C]", "teplota III. [°C]"]}}],
      "mark": {"type": "line", "strokeWidth": 3, "strokeJoin": "round"},
      "encoding": {
        "y": {
          "field": "hodnota",
          "type": "quantitative",
          "scale": {"domain": [0, 30], "nice": false},
          "axis": {
            "orient": "right",
            "title": "teplota [°C]",
            "values": [0, 5, 10, 15, 20, 25, 30],
            "grid": false,
            "labelFontSize": 22,
            "labelPadding": 4,
            "tickSize": 8,
            "tickColor": "#8c8c8c",
            "domainColor": "#8c8c8c",
            "domainWidth": 1.5,
            "titleFontSize": 17,
            "titleFontWeight": "bold",
            "titleAngle": 270,
            "titleAlign": "center",
            "titleBaseline": "middle",
            "titleX": 83,
            "titleY": 216
          }
        }
      }
    }
  ],
  "resolve": {"scale": {"y": "independent"}}
}
